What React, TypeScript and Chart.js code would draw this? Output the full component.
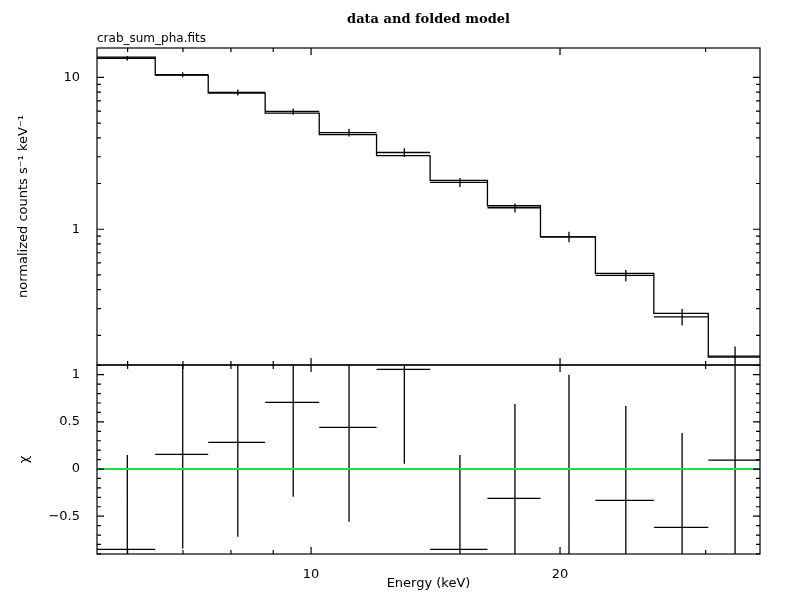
import React, { useEffect, useRef } from 'react';
import { Chart, registerables } from 'chart.js';

Chart.register(...registerables);

// ---- data ----
const binEdges = [5.51, 6.48, 7.51, 8.8, 10.23, 12.0, 13.93, 16.34, 18.94, 22.07, 25.97, 30.22, 34.9];
const dataValues = [13.35, 10.4, 7.96, 5.96, 4.33, 3.2, 2.034, 1.385, 0.891, 0.497, 0.265, 0.146];
const dataErrors = [0.45, 0.4, 0.36, 0.28, 0.25, 0.21, 0.14, 0.094, 0.07, 0.042, 0.033, 0.023];
const modelValues = [13.6, 10.34, 7.88, 5.81, 4.2, 3.05, 2.097, 1.428, 0.891, 0.512, 0.279, 0.144];
const residuals = [-0.852, 0.156, 0.283, 0.707, 0.442, 1.057, -0.852, -0.311, 0.0, -0.332, -0.618, 0.095];
const residualErrors = [1, 1, 1, 1, 1, 1, 1, 1, 1, 1, 1, 1];

const xMajorTicks = [10, 20];
const xMinorTicks = [6, 7, 8, 9, 30];
const yTopMajorTicks = [1, 10];
const yTopMinorTicks = [0.2, 0.3, 0.4, 0.5, 0.6, 0.7, 0.8, 0.9, 2, 3, 4, 5, 6, 7, 8, 9];
const yBotMajorTicks = [-0.5, 0, 0.5, 1];
const yBotMinorTicks = [-0.9, -0.8, -0.7, -0.6, -0.4, -0.3, -0.2, -0.1, 0.1, 0.2, 0.3, 0.4, 0.6, 0.7, 0.8, 0.9, 1.1];

const xRange = [5.51, 34.9];
const yTopRange = [0.1277, 15.6];
const yBotRange = [-0.901, 1.103];

const FONT = 'DejaVu Sans';

type Pt = { x: number; y: number | null };

function crossPoints(values: number[], errors: number[]): Pt[] {
  const pts: Pt[] = [];
  values.forEach((v, i) => {
    const l = binEdges[i];
    const r = binEdges[i + 1];
    const c = (l + r) / 2;
    pts.push({ x: l, y: v }, { x: r, y: v }, { x: r, y: null });
    pts.push({ x: c, y: v - errors[i] }, { x: c, y: v + errors[i] }, { x: c, y: null });
  });
  return pts;
}

function stepPoints(values: number[]): Pt[] {
  const pts: Pt[] = values.map((v, i) => ({ x: binEdges[i], y: v }));
  pts.push({ x: binEdges[values.length], y: values[values.length - 1] });
  return pts;
}

const frameTicksPlugin = {
  id: 'frameTicks',
  afterDatasetsDraw(chart: any, _args: any, opts: any) {
    const { ctx, chartArea: a, scales } = chart;
    const xs = scales.x;
    const ys = scales.y;
    const major = 7;
    const minor = 4;
    ctx.save();
    ctx.strokeStyle = '#000';
    ctx.lineWidth = 1.2;
    ctx.beginPath();
    const vt = (v: number, len: number) => {
      const px = xs.getPixelForValue(v);
      ctx.moveTo(px, a.top);
      ctx.lineTo(px, a.top + len);
      ctx.moveTo(px, a.bottom);
      ctx.lineTo(px, a.bottom - len);
    };
    const ht = (v: number, len: number) => {
      const py = ys.getPixelForValue(v);
      ctx.moveTo(a.left, py);
      ctx.lineTo(a.left + len, py);
      ctx.moveTo(a.right, py);
      ctx.lineTo(a.right - len, py);
    };
    (opts.xMajor || []).forEach((v: number) => vt(v, major));
    (opts.xMinor || []).forEach((v: number) => vt(v, minor));
    (opts.yMajor || []).forEach((v: number) => ht(v, major));
    (opts.yMinor || []).forEach((v: number) => ht(v, minor));
    ctx.stroke();
    ctx.strokeRect(a.left, a.top, a.right - a.left, a.bottom - a.top);
    ctx.restore();
  },
};

const fmt = (v: number) => (v < 0 ? '\u2212' + String(Math.abs(v)) : String(v));

const fixYAxis = (s: any) => {
  s.width = 97;
  s.paddingTop = 0;
  s.paddingBottom = 0;
};

export default function App() {
  const topRef = useRef<HTMLCanvasElement | null>(null);
  const botRef = useRef<HTMLCanvasElement | null>(null);

  useEffect(() => {
    if (!topRef.current || !botRef.current) return;

    const top = new Chart(topRef.current, {
      type: 'line',
      data: {
        datasets: [
          {
            label: 'data',
            data: crossPoints(dataValues, dataErrors) as any,
            borderColor: '#000',
            borderWidth: 1.3,
            pointRadius: 0,
            spanGaps: false,
            fill: false,
          },
          {
            label: 'folded model',
            data: stepPoints(modelValues) as any,
            stepped: true,
            borderColor: '#000',
            borderWidth: 1.3,
            pointRadius: 0,
            fill: false,
          },
        ],
      },
      options: {
        animation: false,
        responsive: false,
        events: [],
        layout: { padding: { left: 0, right: 31, top: 0, bottom: 1 } },
        plugins: {
          legend: { display: false },
          tooltip: { enabled: false },
          title: {
            display: true,
            text: 'data and folded model',
            fullSize: false,
            color: '#000',
            font: { family: 'DejaVu Serif', size: 13, weight: 'bold' },
            padding: { top: 12, bottom: 4 },
          },
          subtitle: {
            display: true,
            text: 'crab_sum_pha.fits',
            align: 'start',
            fullSize: false,
            color: '#000',
            font: { family: FONT, size: 12 },
            padding: { top: 0, bottom: 2 },
          },
          frameTicks: {
            xMajor: xMajorTicks,
            xMinor: xMinorTicks,
            yMajor: yTopMajorTicks,
            yMinor: yTopMinorTicks,
          },
        } as any,
        scales: {
          x: { type: 'logarithmic', min: xRange[0], max: xRange[1], display: false },
          y: {
            type: 'logarithmic',
            min: yTopRange[0],
            max: yTopRange[1],
            afterFit: fixYAxis,
            afterBuildTicks: (s: any) => {
              s.ticks = yTopMajorTicks.map((v) => ({ value: v }));
            },
            ticks: {
              callback: (v: any) => fmt(Number(v)),
              padding: 9,
              color: '#000',
              font: { family: FONT, size: 13 },
              autoSkip: false,
            },
            grid: { display: false },
            border: { display: false },
            title: {
              display: true,
              text: 'normalized counts s\u207B\u00B9 keV\u207B\u00B9',
              color: '#000',
              font: { family: FONT, size: 13 },
              padding: { top: 16, bottom: 0 },
            },
          },
        },
      },
      plugins: [frameTicksPlugin],
    } as any);

    const bot = new Chart(botRef.current, {
      type: 'line',
      data: {
        datasets: [
          {
            label: 'zero',
            data: [
              { x: xRange[0], y: 0 },
              { x: xRange[1], y: 0 },
            ] as any,
            borderColor: '#22dd44',
            borderWidth: 2,
            pointRadius: 0,
            fill: false,
            order: 0,
          },
          {
            label: 'residuals',
            data: crossPoints(residuals, residualErrors) as any,
            borderColor: '#000',
            borderWidth: 1.3,
            pointRadius: 0,
            spanGaps: false,
            fill: false,
            order: 1,
          },
        ],
      },
      options: {
        animation: false,
        responsive: false,
        events: [],
        layout: { padding: { left: 0, right: 31, top: 1, bottom: 0 } },
        plugins: {
          legend: { display: false },
          tooltip: { enabled: false },
          frameTicks: {
            xMajor: xMajorTicks,
            xMinor: xMinorTicks,
            yMajor: yBotMajorTicks,
            yMinor: yBotMinorTicks,
          },
        } as any,
        scales: {
          x: {
            type: 'logarithmic',
            min: xRange[0],
            max: xRange[1],
            afterFit: (s: any) => {
              s.height = 55;
              s.paddingLeft = 0;
              s.paddingRight = 0;
            },
            afterBuildTicks: (s: any) => {
              s.ticks = xMajorTicks.map((v) => ({ value: v }));
            },
            ticks: {
              callback: (v: any) => fmt(Number(v)),
              padding: 5,
              maxRotation: 0,
              autoSkip: false,
              color: '#000',
              font: { family: FONT, size: 13 },
            },
            grid: { display: false },
            border: { display: false },
            title: {
              display: true,
              text: 'Energy (keV)',
              color: '#000',
              font: { family: FONT, size: 13 },
              padding: { top: 0, bottom: 18 },
            },
          },
          y: {
            type: 'linear',
            min: yBotRange[0],
            max: yBotRange[1],
            afterFit: fixYAxis,
            afterBuildTicks: (s: any) => {
              s.ticks = yBotMajorTicks.map((v) => ({ value: v }));
            },
            ticks: {
              callback: (v: any) => fmt(Number(v)),
              padding: 9,
              autoSkip: false,
              color: '#000',
              font: { family: FONT, size: 13 },
            },
            grid: { display: false },
            border: { display: false },
            title: {
              display: true,
              text: '\u03C7',
              color: '#000',
              font: { family: FONT, size: 13 },
              padding: { top: 17, bottom: 0 },
            },
          },
        },
      },
      plugins: [frameTicksPlugin],
    } as any);

    return () => {
      top.destroy();
      bot.destroy();
    };
  }, []);

  return (
    <div style={{ position: 'absolute', left: 0, top: 0, width: 791, height: 609, background: '#fff' }}>
      <canvas
        ref={topRef}
        width={791}
        height={366}
        style={{ position: 'absolute', left: 0, top: 0, width: 791, height: 366 }}
      />
      <canvas
        ref={botRef}
        width={791}
        height={245}
        style={{ position: 'absolute', left: 0, top: 364, width: 791, height: 245 }}
      />
    </div>
  );
}
